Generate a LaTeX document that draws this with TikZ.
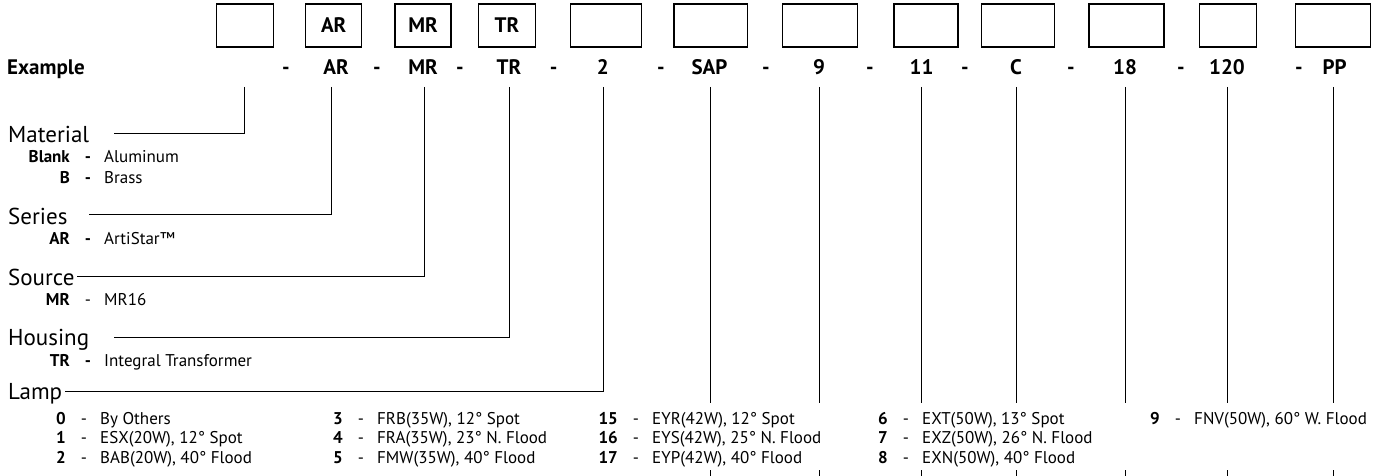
\documentclass[tikz,border=0pt]{standalone}
\usepackage{fontspec}
\setmainfont{PT Sans}
\usetikzlibrary{calc}
\newcommand\coderow[6]{%
  \node[sub, anchor=base east, font=\fontsize{17}{20}\selectfont\bfseries] (#1n) at (#2,#3) {#4};
  \node[sub, font=\fontsize{17}{20}\selectfont#5] (#1d) at ($(#2,#3)+(18,0)$) {-};
  \node[sub, anchor=base west] (#1t) at ($(#2,#3)+(34,0)$) {#6};
}
\begin{document}
\begin{tikzpicture}[x=1pt,y=-1pt,
  box/.style={draw, line width=1.1pt, minimum height=43pt, inner sep=0pt, font=\fontsize{21}{24}\selectfont\bfseries},
  code/.style={anchor=base, inner sep=0pt, font=\fontsize{21}{24}\selectfont\bfseries},
  head/.style={anchor=base west, inner sep=0pt, font=\fontsize{23}{27}\selectfont},
  sub/.style={anchor=base, inner sep=0pt, font=\fontsize{17}{20}\selectfont},
  conn/.style={line width=0.9pt}]
\useasboundingbox (0,0) rectangle (1385,476);
% top boxes
\node[box, minimum width=56.5pt] (b1) at (244.8,25.5) {};
\node[box, minimum width=56pt] (b2) at (333.7,25.5) {AR};
\node[box, minimum width=56pt] (b3) at (423,25.5) {MR};
\node[box, minimum width=56.5pt] (b4) at (507,25.5) {TR};
\node[box, minimum width=71.5pt] (b5) at (606,25.5) {};
\node[box, minimum width=73.5pt] (b6) at (710.7,25.5) {};
\node[box, minimum width=75pt] (b7) at (819.8,25.5) {};
\node[box, minimum width=64pt] (b8) at (926,25.5) {};
\node[box, minimum width=72.5pt] (b9) at (1018,25.5) {};
\node[box, minimum width=75pt] (b10) at (1126.5,25.5) {};
\node[box, minimum width=56.5pt] (b11) at (1228,25.5) {};
\node[box, minimum width=74.3pt] (b12) at (1333,25.5) {};
% example row
\node[code, anchor=base west] (ex) at (7,74.5) {Example};
\node[code] (d1) at (286,74.5) {-};
\node[code] (e2) at (336,74.5) {AR};
\node[code] (d2) at (377,74.5) {-};
\node[code] (e3) at (423,74.5) {MR};
\node[code] (d3) at (460,74.5) {-};
\node[code] (e4) at (509,74.5) {TR};
\node[code] (d4) at (553.6,74.5) {-};
\node[code] (e5) at (602.7,74.5) {2};
\node[code] (d5) at (661,74.5) {-};
\node[code] (e6) at (709.5,74.5) {SAP};
\node[code] (d6) at (766,74.5) {-};
\node[code] (e7) at (819,74.5) {9};
\node[code] (d7) at (870,74.5) {-};
\node[code] (e8) at (921.6,74.5) {11};
\node[code] (d8) at (965,74.5) {-};
\node[code] (e9) at (1016,74.5) {C};
\node[code] (d9) at (1071,74.5) {-};
\node[code] (e10) at (1125,74.5) {18};
\node[code] (d10) at (1181,74.5) {-};
\node[code] (e11) at (1227,74.5) {120};
\node[code] (d11) at (1299,74.5) {-};
\node[code] (e12) at (1334.5,74.5) {PP};
% headings
\node[head] (hmat) at (8,143) {Material};
\node[head] (hser) at (8,224) {Series};
\node[head] (hsrc) at (8,285) {Source};
\node[head] (hhou) at (8,345) {Housing};
\node[head] (hlam) at (8,399) {Lamp};
% sub items
\coderow{blank}{70}{163}{Blank}{\bfseries}{Aluminum}
\coderow{brass}{70}{184}{B}{\bfseries}{Brass}
\coderow{ar}{70}{244}{AR}{\bfseries}{ArtiStar™}
\coderow{mr}{70}{305}{MR}{}{MR16}
\coderow{tr}{70}{366}{TR}{\bfseries}{Integral Transformer}
% lamp table
\coderow{l0}{66}{424}{0}{}{By Others}
\coderow{l1}{66}{443.5}{1}{}{ESX(20W), 12° Spot}
\coderow{l2}{66}{463}{2}{}{BAB(20W), 40° Flood}
\coderow{l3}{343}{424}{3}{}{FRB(35W), 12° Spot}
\coderow{l4}{343}{443.5}{4}{}{FRA(35W), 23° N. Flood}
\coderow{l5}{343}{463}{5}{}{FMW(35W), 40° Flood}
\coderow{l15}{618}{424}{15}{}{EYR(42W), 12° Spot}
\coderow{l16}{618}{443.5}{16}{}{EYS(42W), 25° N. Flood}
\coderow{l17}{618}{463}{17}{}{EYP(42W), 40° Flood}
\coderow{l6}{888}{424}{6}{}{EXT(50W), 13° Spot}
\coderow{l7}{888}{443.5}{7}{}{EXZ(50W), 26° N. Flood}
\coderow{l8}{888}{463}{8}{}{EXN(50W), 40° Flood}
\coderow{l9}{1160}{424}{9}{}{FNV(50W), 60° W. Flood}
% connectors to headings
\coordinate (t1) at (244,87);  \coordinate (k1) at (244,133); \coordinate (s1) at (114,133);
\coordinate (t2) at (331,87);  \coordinate (k2) at (331,214); \coordinate (s2) at (89,214);
\coordinate (t3) at (424,87);  \coordinate (k3) at (424,276); \coordinate (s3) at (77,276);
\coordinate (t4) at (509,87);  \coordinate (k4) at (509,337); \coordinate (s4) at (114,337);
\coordinate (t5) at (603,87);  \coordinate (k5) at (603,391); \coordinate (s5) at (65,391);
\draw[conn] (t1) -- (k1) -- (s1);
\draw[conn] (t2) -- (k2) -- (s2);
\draw[conn] (t3) -- (k3) -- (s3);
\draw[conn] (t4) -- (k4) -- (s4);
\draw[conn] (t5) -- (k5) -- (s5);
% right side lines and continuation ticks
\foreach \i/\x in {6/710.4,7/819,8/921.6,9/1016,10/1125,11/1227.4,12/1333.6}{
  \coordinate (t\i) at (\x,87);
  \coordinate (k\i) at (\x,403);
  \coordinate (u\i) at (\x,470);
  \coordinate (v\i) at (\x,476);
  \draw[conn] (t\i) -- (k\i);
  \draw[conn] (u\i) -- (v\i);
}
\end{tikzpicture}
\end{document}
